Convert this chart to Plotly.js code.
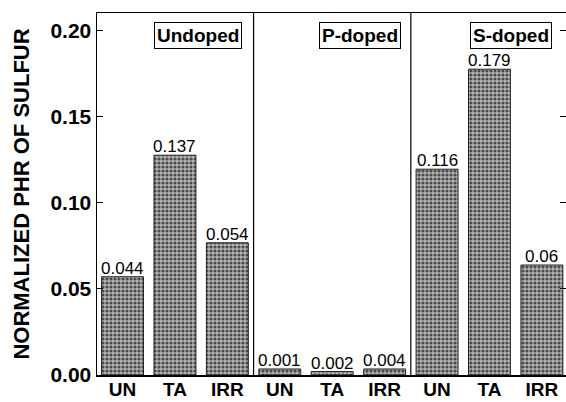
<!DOCTYPE html>
<html>
<head>
<meta charset="utf-8">
<script src="https://cdn.plot.ly/plotly-3.0.1.min.js"></script>
<style>html,body{margin:0;padding:0;background:#fff;}</style>
</head>
<body>
<div id="chart" style="width:566px;height:402px;"></div>
<script>
// Data
const categories = ["UN", "TA", "IRR", "UN", "TA", "IRR", "UN", "TA", "IRR"];
const barHeights = [0.057, 0.1275, 0.0767, 0.0035, 0.002, 0.0035, 0.1194, 0.1774, 0.0638];
const valueLabels = ["0.044", "0.137", "0.054", "0.001", "0.002", "0.004", "0.116", "0.179", "0.06"];
const groupNames = ["Undoped", "P-doped", "S-doped"];
const yTicks = [0.00, 0.05, 0.10, 0.15, 0.20];

const xs = categories.map((c, i) => i);
const font = "Liberation Sans, Arial, sans-serif";

const trace = {
  type: "bar",
  x: xs,
  y: barHeights,
  width: 0.8,
  marker: {
    color: "#8e8e8e",
    line: {color: "#222", width: 1},
    pattern: {shape: ".", fgcolor: "#4a4a4a", bgcolor: "#b4b4b4", size: 4, solidity: 0.5}
  },
  hoverinfo: "none"
};

const annotations = valueLabels.map((t, i) => ({
  x: xs[i], y: barHeights[i], xref: "x", yref: "y",
  text: t, showarrow: false, xanchor: "center", yanchor: "bottom", yshift: -3,
  font: {family: font, size: 17, color: "#000"}
}));

const groupX = [1.44, 4.53, 7.42];
groupNames.forEach((g, k) => {
  annotations.push({
    x: groupX[k], y: 0.197, xref: "x", yref: "y",
    text: g, showarrow: false, xanchor: "center", yanchor: "middle",
    bordercolor: "#000", borderwidth: 1, borderpad: 2, bgcolor: "#fff",
    font: {family: font, size: 19, weight: "bold", color: "#000"}
  });
});

const layout = {
  width: 566, height: 402,
  margin: {l: 97, r: 0, t: 13, b: 27},
  paper_bgcolor: "#fff", plot_bgcolor: "#fff",
  showlegend: false,
  xaxis: {
    range: [-0.487, 8.46],
    tickvals: xs, ticktext: categories,
    showline: true, linecolor: "#000", linewidth: 1.5, mirror: true,
    ticks: "", showgrid: false, zeroline: false, ticklabelstandoff: -3,
    tickfont: {family: font, size: 19, weight: "bold", color: "#000"}
  },
  yaxis: {
    range: [0, 0.21],
    tickvals: yTicks, tickformat: ".2f",
    ticks: "inside", ticklen: 6, tickcolor: "#000", mirror: "ticks",
    showline: true, linecolor: "#000", linewidth: 1.5,
    showgrid: false, zeroline: false,
    tickfont: {family: font, size: 21, weight: "bold", color: "#000"},
    title: {text: "NORMALIZED PHR OF SULFUR", standoff: 14,
            font: {family: font, size: 22, weight: "bold", color: "#000"}}
  },
  shapes: [2.5, 5.5].map(v => ({
    type: "line", xref: "x", yref: "paper", x0: v, x1: v, y0: 0, y1: 1,
    line: {color: "#000", width: 1.2}
  })),
  annotations: annotations
};

Plotly.newPlot("chart", [trace], layout, {displayModeBar: false, staticPlot: true});
</script>
</body>
</html>
